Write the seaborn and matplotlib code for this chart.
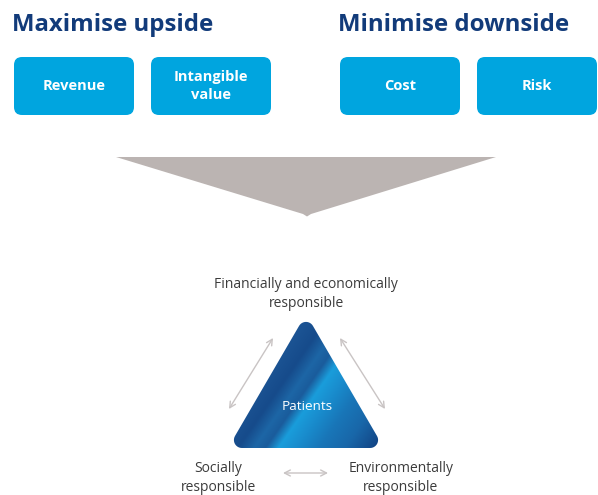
import numpy as np
import matplotlib
matplotlib.use("Agg")
import matplotlib.pyplot as plt
import seaborn as sns
from matplotlib.patches import FancyBboxPatch, Polygon
from matplotlib.colors import LinearSegmentedColormap

sns.set_theme(style="white")
plt.rcParams['font.family'] = ['Open Sans', 'DejaVu Sans']

# ---------- content ----------
headings = ["Maximise upside", "Minimise downside"]
upside_boxes = ["Revenue", "Intangible\nvalue"]
downside_boxes = ["Cost", "Risk"]
centre_label = "Patients"
corner_labels = ["Financially and economically\nresponsible",
                 "Socially\nresponsible",
                 "Environmentally\nresponsible"]

navy = "#123b7a"
box_blue = "#00a5df"
funnel_grey = "#bbb4b2"
arrow_grey = "#c9c4c4"
text_grey = "#3c3c3c"

fig = plt.figure(figsize=(5.98, 4.95), dpi=100)
ax = fig.add_axes([0, 0, 1, 1])
ax.set_xlim(0, 598)
ax.set_ylim(495, 0)
ax.set_aspect('equal')
ax.axis('off')

# ---------- headings + boxes ----------
box_w, box_h, gap = 120, 58, 17
group_x = [14, 340]
for gx, title, labels in zip(group_x, headings, [upside_boxes, downside_boxes]):
    ax.text(gx - 2, 25, title, fontsize=17.3, fontweight='bold', color=navy,
            ha='left', va='center')
    for i, lab in enumerate(labels):
        bx = gx + i * (box_w + gap)
        ax.add_patch(FancyBboxPatch((bx, 57), box_w, box_h,
                                    boxstyle="round,pad=0,rounding_size=8",
                                    fc=box_blue, ec='none'))
        ax.text(bx + box_w / 2, 57 + box_h / 2, lab, fontsize=10.5,
                fontweight='bold', color='white', ha='center', va='center',
                linespacing=1.3)

# ---------- funnel ----------
ax.add_patch(Polygon([(116, 157), (496, 157), (311, 214), (307, 216.5), (303, 214)],
                     closed=True, fc=funnel_grey, ec='none'))


# ---------- gradient triangle ----------
def rounded_triangle(pts, r, n=14):
    pts = np.asarray(pts, float)
    c = pts.mean(axis=0)
    inner = []
    for i in range(3):
        p = pts[i]
        a = pts[i - 1] - p
        b = pts[(i + 1) % 3] - p
        a /= np.linalg.norm(a)
        b /= np.linalg.norm(b)
        bis = (a + b) / np.linalg.norm(a + b)
        half = np.arccos(np.clip(np.dot(a, b), -1, 1)) / 2
        inner.append(p + bis * r / np.sin(half))
    inner = np.array(inner)
    out = []
    for i in range(3):
        p = inner[i]
        e_prev = inner[i] - inner[i - 1]
        e_next = inner[(i + 1) % 3] - inner[i]
        n_prev = np.array([e_prev[1], -e_prev[0]]) / np.linalg.norm(e_prev)
        n_next = np.array([e_next[1], -e_next[0]]) / np.linalg.norm(e_next)
        if np.dot(n_prev, p - c) < 0:
            n_prev, n_next = -n_prev, -n_next
        a0 = np.arctan2(n_prev[1], n_prev[0])
        a1 = np.arctan2(n_next[1], n_next[0])
        d = (a1 - a0 + np.pi) % (2 * np.pi) - np.pi
        for t in np.linspace(0, 1, n):
            ang = a0 + d * t
            out.append(p + r * np.array([np.cos(ang), np.sin(ang)]))
    return np.array(out)


tri = rounded_triangle([(306, 314), (384, 448), (228, 448)], 8)
tri_patch = Polygon(tri, closed=True, fc='none', ec='none')
ax.add_patch(tri_patch)

xs = np.linspace(225, 388, 330)
ys = np.linspace(312, 452, 290)
X, Y = np.meshgrid(xs, ys)
T = X + Y / 1.45
T = (T - 527) / (690 - 527)
cmap = LinearSegmentedColormap.from_list("patients", [
    (0.0, "#1b5393"), (0.12, "#164b8b"), (0.22, "#1d66a6"), (0.29, "#1a5c9c"),
    (0.37, "#1a9ddb"), (0.48, "#198ccd"), (0.62, "#1876b8"), (0.78, "#1967a9"),
    (1.0, "#113f7f")])
im = ax.imshow(T, cmap=cmap, vmin=0, vmax=1, extent=(225, 388, 452, 312),
               origin='upper', interpolation='bilinear', zorder=2)
im.set_clip_path(tri_patch)
ax.set_xlim(0, 598)
ax.set_ylim(495, 0)

ax.text(307, 407, centre_label, fontsize=9.7, color='white', ha='center',
        va='center', zorder=3)

# ---------- arrows between sides ----------
arrow_kw = dict(arrowstyle='<->,head_length=0.35,head_width=0.18',
                color=arrow_grey, lw=1.0, shrinkA=0, shrinkB=0)
for start, end in [((229, 409), (273, 338)), ((340, 338), (385, 409)),
                   ((283, 473), (328, 473))]:
    ax.annotate('', xy=end, xytext=start, arrowprops=arrow_kw)

# ---------- corner labels ----------
label_pos = [(306, 294), (218, 478), (401, 478)]
for (lx, ly), lab in zip(label_pos, corner_labels):
    ax.text(lx, ly, lab, fontsize=10, color=text_grey, ha='center',
            va='center', linespacing=1.3)

fig.savefig("out.png", dpi=100)
